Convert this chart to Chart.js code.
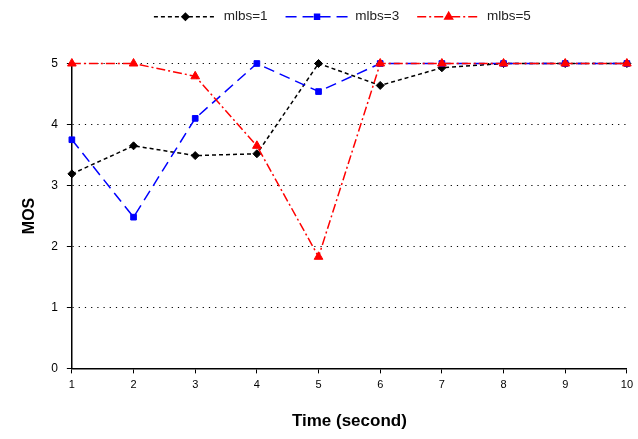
<!DOCTYPE html>
<html><head><meta charset="utf-8">
<script src="https://cdn.jsdelivr.net/npm/chart.js@4/dist/chart.umd.min.js"></script>
<style>html,body{margin:0;padding:0;background:#fff;}#wrap{width:638px;height:439px;}</style>
</head><body><div id="wrap"><canvas id="c" width="638" height="439"></canvas></div>
<script>
const times = [1,2,3,4,5,6,7,8,9,10];
const mlbs1 = [3.19,3.65,3.49,3.52,5.0,4.64,4.93,5.0,5.0,5.0];
const mlbs3 = [3.75,2.48,4.10,5.0,4.54,5.0,5.0,5.0,5.0,5.0];
const mlbs5 = [5.0,5.0,4.79,3.65,1.83,5.0,5.0,5.0,5.0,5.0];
const yTicks = [0,1,2,3,4,5];

const series = [
  {label:'mlbs=1', data:mlbs1, color:'#000000', dash:[4,3], point:'rectRot', r:4, order:3},
  {label:'mlbs=3', data:mlbs3, color:'#0000ff', dash:[11,6], point:'rect', r:4, order:2},
  {label:'mlbs=5', data:mlbs5, color:'#ff0000', dash:[9,3,2,3], point:'triangle', r:5, order:1}
];
const BOXW = 63;

const legendOverlay = {
  id:'legendOverlay',
  afterInit(chart){
    const l = chart.legend;
    if(l){ const f = l.fit; l.fit = function(){ f.call(this); this.height += 30; }; }
  },
  afterLayout(chart){
    const l = chart.legend;
    if(l){ l.left -= 7; l.right -= 7; }
  },
  afterDraw(chart){
    const lg = chart.legend; if(!lg || !lg.legendHitBoxes) return;
    const ctx = chart.ctx;
    lg.legendHitBoxes.forEach((hb,i)=>{
      const s = series[i];
      const y = hb.top + hb.height/2;
      const x0 = hb.left, x1 = hb.left + BOXW;
      ctx.save();
      ctx.strokeStyle = s.color; ctx.lineWidth = 1.5; ctx.setLineDash(s.dash);
      ctx.beginPath(); ctx.moveTo(x0,y); ctx.lineTo(x1,y); ctx.stroke();
      ctx.setLineDash([]);
      ctx.fillStyle = s.color; ctx.strokeStyle = s.color;
      Chart.helpers.drawPoint(ctx,{pointStyle:s.point,radius:s.r-0.5,borderWidth:1},(x0+x1)/2,y);
      ctx.restore();
    });
  }
};

new Chart(document.getElementById('c'),{
  type:'line',
  data:{
    labels: times,
    datasets: series.map(s=>({
      label:s.label, data:s.data, borderColor:s.color, backgroundColor:s.color, order:s.order,
      borderDash:s.dash, borderWidth:1.5, pointStyle:s.point, pointRadius:s.r,
      pointBorderColor:s.color, pointBackgroundColor:s.color, pointBorderWidth:1,
      tension:0, fill:false, clip:8
    }))
  },
  options:{
    responsive:false, animation:false, devicePixelRatio:1,
    layout:{padding:{left:20,right:10,top:-8,bottom:7}},
    plugins:{
      tooltip:{enabled:false},
      legend:{
        display:true, position:'top', fullSize:false,
        labels:{
          boxWidth:BOXW, boxHeight:10, padding:18, color:'#222',
          font:{family:'Liberation Sans, Arial, sans-serif', size:13.5},
          generateLabels(chart){
            return series.map((s,i)=>({text:s.label, fillStyle:'rgba(0,0,0,0)', strokeStyle:'rgba(0,0,0,0)', lineWidth:0, datasetIndex:i, fontColor:'#222'}));
          }
        }
      }
    },
    scales:{
      x:{
        type:'category', offset:false,
        grid:{drawOnChartArea:false, drawTicks:true, tickLength:5, tickColor:'#000', color:'#000'},
        border:{display:true, color:'#000', width:1.5},
        ticks:{color:'#000', font:{family:'Liberation Sans, Arial, sans-serif', size:11}, padding:5, maxRotation:0, autoSkip:false},
        title:{display:true, text:'Time (second)', color:'#000', font:{family:'Liberation Sans, Arial, sans-serif', size:17, weight:'bold'}, padding:{top:15,bottom:0}}
      },
      y:{
        min:0, max:5,
        afterBuildTicks(axis){ axis.ticks = yTicks.map(v=>({value:v})); },
        grid:{drawOnChartArea:true, color:'#000', lineWidth:1, drawTicks:true, tickLength:5, tickColor:'#000', tickBorderDash:[]},
        border:{display:true, color:'#000', width:1.5, dash:[1.2,5]},
        ticks:{color:'#000', font:{family:'Liberation Sans, Arial, sans-serif', size:12}, padding:9},
        title:{display:true, text:'MOS', color:'#000', font:{family:'Liberation Sans, Arial, sans-serif', size:16, weight:'bold'}, padding:{top:0,bottom:3}}
      }
    }
  },
  plugins:[legendOverlay]
});
</script></body></html>
